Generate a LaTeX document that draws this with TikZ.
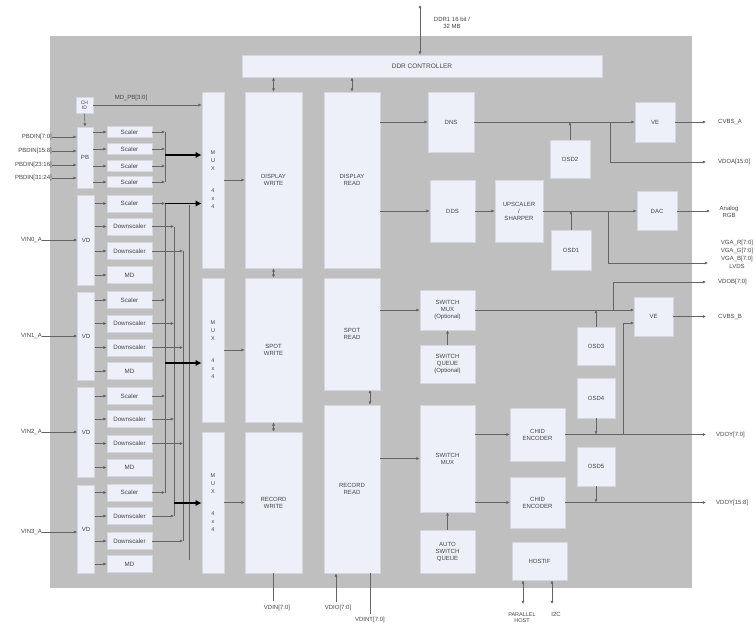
\documentclass[tikz,border=0pt]{standalone}
\usepackage{fontspec}
\setmainfont{Liberation Sans}
\usetikzlibrary{arrows.meta}
\definecolor{bgray}{RGB}{191,191,191}
\definecolor{bfill}{RGB}{237,239,249}
\definecolor{bedge}{RGB}{214,215,222}
\definecolor{lcol}{RGB}{100,100,100}
\definecolor{tcol}{RGB}{70,70,70}
\newcommand\vdgroup[7]{%
 \node[blk,minimum width=17,minimum height=#3] (vd#1) at (86,#2) {VD};
 \node[sub] (sa#1) at (129.5,#4) {Scaler};
 \node[sub] (sb#1) at (129.5,#5) {Downscaler};
 \node[sub] (sc#1) at (129.5,#6) {Downscaler};
 \node[sub] (sd#1) at (129.5,#7) {MD};
 \draw[arr] (vd#1.east |- sa#1.west) -- (sa#1.west);
 \draw[arr] (vd#1.east |- sb#1.west) -- (sb#1.west);
 \draw[arr] (vd#1.east |- sc#1.west) -- (sc#1.west);
 \draw[arr] (vd#1.east |- sd#1.west) -- (sd#1.west);
 \coordinate (ba#1) at (165,#4);
 \coordinate (bb#1) at (174,#5);
 \coordinate (bc#1) at (183,#6);
 \draw[arr] (sa#1.east) -- (ba#1);
 \draw[arr] (sb#1.east) -- (bb#1);
 \draw[arr] (sc#1.east) -- (bc#1);
}
\begin{document}
\begin{tikzpicture}[x=1pt,y=-1pt,
 blk/.style={draw=bedge,fill=bfill,line width=0.8pt,inner sep=0pt,align=center,font=\fontsize{6}{7}\selectfont,text=tcol},
 sub/.style={blk,minimum width=45,minimum height=17,font=\fontsize{6.2}{7}\selectfont},
 wire/.style={draw=lcol,line width=0.5pt},
 arr/.style={wire,-{Latex[length=3.2pt,width=3pt]}},
 darr/.style={wire,{Latex[length=3.2pt,width=3pt]}-{Latex[length=3.2pt,width=3pt]}},
 fat/.style={draw=black,line width=1.8pt,-{Latex[length=6pt,width=6.5pt]}},
 lbl/.style={font=\fontsize{6}{7}\selectfont,text=tcol,inner sep=0pt,align=center}
]
\useasboundingbox (0,0) rectangle (756,625);
\fill[white] (0,0) rectangle (756,625);
\node[fill=bgray,draw=none,inner sep=0pt,minimum width=642,minimum height=552] (bg) at (371,312) {};

% DDR
\node[blk,minimum width=360,minimum height=22,font=\fontsize{6.5}{7}\selectfont] (ddr) at (422,66) {DDR CONTROLLER};
\coordinate (ddrtop) at (420,5);
\draw[darr] (ddrtop) -- (ddrtop |- ddr.north);
\node[lbl] (ddrlbl) at (452,23) {DDR1 16 bit /\\32 MB};

% CH ID and PB
\node[blk,minimum width=17,minimum height=16,font=\fontsize{5}{5.5}\selectfont] (chid) at (84.5,105) {CH\\ID};
\node[blk,minimum width=16,minimum height=61] (pb) at (85,157.5) {PB};
\draw[arr] (chid.south) -- (pb.north);

% MUX
\node[blk,minimum width=22,minimum height=176,font=\fontsize{5.5}{8}\selectfont] (mux1) at (213,180) {M\\U\\X\\[14pt]4\\x\\4};
\node[blk,minimum width=22,minimum height=144,font=\fontsize{5.5}{8}\selectfont] (mux2) at (213,350) {M\\U\\X\\[14pt]4\\x\\4};
\node[blk,minimum width=22,minimum height=141,font=\fontsize{5.5}{8}\selectfont] (mux3) at (213,502.5) {M\\U\\X\\[14pt]4\\x\\4};

\draw[arr] (chid.east) -- (chid.east -| mux1.west);
\node[lbl] (mdpb) at (131,98) {MD\_PB[3:0]};

% PB inputs
\node[lbl,anchor=east] (pbin1) at (52,137) {PBDIN[7:0]};
\node[lbl,anchor=east] (pbin2) at (52,151) {PBDIN[15:8]};
\node[lbl,anchor=east] (pbin3) at (52,165) {PBDIN[23:16]};
\node[lbl,anchor=east] (pbin4) at (52,178) {PBDIN[31:24]};
\foreach \i in {1,2,3,4}{\draw[arr] (pbin\i.east) -- (pbin\i.east -| pb.west);}

% PB scalers
\foreach \i/\y in {1/132,2/149,3/166,4/182}{
 \node[sub,minimum height=11] (ps\i) at (129.5,\y) {Scaler};
 \draw[arr] (pb.east |- ps\i.west) -- (ps\i.west);
 \coordinate (pbus\i) at (165,\y);
 \draw[arr] (ps\i.east) -- (pbus\i);
}
\draw[wire] (pbus1) -- (pbus4);

% VD groups
\vdgroup{0}{240}{90}{203.5}{226.5}{251}{275}
\vdgroup{1}{336}{88}{300}{323.5}{347.5}{371}
\vdgroup{2}{432}{90}{396}{419}{443.5}{467.5}
\vdgroup{3}{529}{88}{492.5}{516}{541}{564}

\node[lbl,anchor=east] (vin0) at (42,240) {VIN0\_A};
\node[lbl,anchor=east] (vin1) at (42,336) {VIN1\_A};
\node[lbl,anchor=east] (vin2) at (42,432) {VIN2\_A};
\node[lbl,anchor=east] (vin3) at (42,532) {VIN3\_A};
\draw[arr] (vin0.east) -- (vin0.east -| vd0.west);
\draw[arr] (vin1.east) -- (vin1.east -| vd1.west);
\draw[arr] (vin2.east) -- (vin2.east -| vd2.west);
\draw[arr] (vin3.east) -- (vin3.east -| vd3.west);

% buses
\draw[wire] (ba0) -- (ba3);
\draw[wire] (bb0) -- (bb3);
\draw[wire] (bc0) -- (bc3);
\coordinate (bd0) at (189,205);
\coordinate (bd3) at (189,560);
\draw[wire] (bd0) -- (bd3);

% thick arrows
\coordinate (f1) at (165,155);
\coordinate (f3) at (165,363);
\coordinate (f4) at (174,503);
\draw[fat] (f1) -- (f1 -| mux1.west);
\draw[fat] (ba0) -- (ba0 -| mux1.west);
\draw[fat] (f3) -- (f3 -| mux2.west);
\draw[fat] (f4) -- (f4 -| mux3.west);

% write / read
\node[blk,minimum width=57,minimum height=176] (dw) at (273.5,180) {DISPLAY\\WRITE};
\node[blk,minimum width=57,minimum height=144] (sw) at (273.5,350) {SPOT\\WRITE};
\node[blk,minimum width=57,minimum height=141] (rw) at (273.5,502.5) {RECORD\\WRITE};
\node[blk,minimum width=56,minimum height=176] (dr) at (352,180) {DISPLAY\\READ};
\node[blk,minimum width=56,minimum height=112] (sr) at (352,334) {SPOT\\READ};
\node[blk,minimum width=56,minimum height=168] (rr) at (352,489) {RECORD\\READ};

\draw[arr] (mux1.east) -- (dw.west);
\draw[arr] (mux2.east) -- (sw.west);
\draw[arr] (mux3.east) -- (rw.west);
\draw[darr] (ddr.south -| dw.north) -- (dw.north);
\draw[darr] (ddr.south -| dr.north) -- (dr.north);
\draw[darr] (dw.south) -- (sw.north);
\draw[darr] (sw.south) -- (rw.north);
\coordinate (srb) at (370,390);
\draw[darr] (srb) -- (srb |- rr.north);

% bottom signals
\node[lbl] (vdin) at (277,608) {VDIN[7:0]};
\node[lbl] (vdio) at (338,608) {VDIO[7:0]};
\node[lbl] (vdint) at (370,620) {VDINT[7:0]};
\coordinate (rwd) at (273.5,601);
\draw[wire] (rw.south) -- (rwd);
\coordinate (rru) at (336,602);
\draw[arr] (rru) -- (rru |- rr.south);
\coordinate (rrd) at (370,614);
\draw[wire] (rrd |- rr.south) -- (rrd);

% display path
\node[blk,minimum width=46,minimum height=60] (dns) at (451,122) {DNS};
\node[blk,minimum width=45,minimum height=62] (dds) at (452.5,211) {DDS};
\node[blk,minimum width=48,minimum height=62] (ups) at (519,211) {UPSCALER\\/\\SHARPER};
\node[blk,minimum width=40,minimum height=38] (osd2) at (570,159) {OSD2};
\node[blk,minimum width=40,minimum height=40] (osd1) at (571,250) {OSD1};
\node[blk,minimum width=40,minimum height=40] (ve1) at (655,122) {VE};
\node[blk,minimum width=40,minimum height=39] (dac) at (657,211) {DAC};

\draw[arr] (dr.east |- dns.west) -- (dns.west);
\draw[arr] (dr.east |- dds.west) -- (dds.west);
\draw[arr] (dds.east) -- (ups.west);
\draw[arr] (dns.east) -- (ve1.west);
\draw[arr] (osd2.north) -- (osd2.north |- dns.east);
\draw[arr] (ups.east) -- (dac.west);
\draw[arr] (osd1.north) -- (osd1.north |- ups.east);

\coordinate (oa) at (706,122);
\coordinate (ob) at (706,162);
\coordinate (oc) at (710,211);
\coordinate (od) at (708,263);
\coordinate (oe) at (706,282);
\coordinate (of) at (706,316.5);
\coordinate (og) at (706,434.5);
\coordinate (oh) at (706,502.5);
\draw[arr] (ve1.east) -- (oa);
\coordinate (j1) at (610,122);
\draw[arr] (j1) -- (j1 |- ob) -- (ob);
\draw[arr] (dac.east) -- (oc);
\coordinate (j2) at (608,211);
\draw[arr] (j2) -- (j2 |- od) -- (od);

\node[lbl,anchor=west] (cvbsa) at (718,122) {CVBS\_A};
\node[lbl,anchor=west] (vdoa) at (718,162) {VDOA[15:0]};
\node[lbl] (argb) at (729,212) {Analog\\RGB};
\node[lbl,font=\fontsize{6}{8}\selectfont] (vga) at (737,254) {VGA\_R[7:0]\\VGA\_G[7:0]\\VGA\_B[7:0]\\LVDS};
\node[lbl,anchor=west] (vdob) at (718,282) {VDOB[7:0]};
\node[lbl,anchor=west] (cvbsb) at (718,316.5) {CVBS\_B};
\node[lbl,anchor=west] (vdox) at (716,434.5) {VDOY[7:0]};
\node[lbl,anchor=west] (vdoy) at (716,502.5) {VDOY[15:8]};

% switch / spot path
\node[blk,minimum width=55,minimum height=40] (smux1) at (447.5,310) {SWITCH\\MUX\\(Optional)};
\node[blk,minimum width=55,minimum height=38] (sq) at (447.5,364) {SWITCH\\QUEUE\\(Optional)};
\node[blk,minimum width=55,minimum height=107] (smux2) at (447.5,458.5) {SWITCH\\MUX};
\node[blk,minimum width=55,minimum height=43] (asq) at (447.5,551.5) {AUTO\\SWITCH\\QUEUE};
\node[blk,minimum width=55,minimum height=53] (chid1) at (537.5,434.5) {CHID\\ENCODER};
\node[blk,minimum width=55,minimum height=51] (chid2) at (537.5,502.5) {CHID\\ENCODER};
\node[blk,minimum width=55,minimum height=38] (hostif) at (539.5,561) {HOSTIF};
\node[blk,minimum width=39,minimum height=39] (ve2) at (653.5,316.5) {VE};
\node[blk,minimum width=38,minimum height=38] (osd3) at (596,346) {OSD3};
\node[blk,minimum width=38,minimum height=40] (osd4) at (596,398) {OSD4};
\node[blk,minimum width=38,minimum height=39] (osd5) at (596,466.5) {OSD5};

\draw[arr] (sr.east |- smux1.west) -- (smux1.west);
\draw[arr] (sq.north) -- (smux1.south);
\draw[arr] (rr.east |- smux2.west) -- (smux2.west);
\draw[arr] (asq.north) -- (smux2.south);
\draw[arr] (smux2.east |- chid1.west) -- (chid1.west);
\draw[arr] (smux2.east |- chid2.west) -- (chid2.west);

\coordinate (ve2a) at (634,310);
\coordinate (ve2b) at (634,323);
\draw[arr] (smux1.east) -- (ve2a);
\draw[arr] (osd3.north) -- (osd3.north |- ve2a);
\coordinate (j3) at (613,310);
\draw[arr] (j3) -- (j3 |- oe) -- (oe);
\draw[arr] (ve2.east) -- (of);

\draw[arr] (chid1.east) -- (og);
\draw[arr] (osd4.south) -- (osd4.south |- og);
\coordinate (j4) at (623,434.5);
\draw[arr] (j4) -- (j4 |- ve2b) -- (ve2b);
\draw[arr] (chid2.east) -- (oh);
\draw[arr] (osd5.south) -- (osd5.south |- oh);

% host
\coordinate (ph) at (523,604);
\coordinate (pi) at (552,604);
\draw[darr] (hostif.south -| ph) -- (ph);
\draw[darr] (hostif.south -| pi) -- (pi);
\node[lbl,font=\fontsize{5.5}{6}\selectfont] (phl) at (522,617.5) {PARALLEL\\HOST};
\node[lbl] (pil) at (556,614) {I2C};
\end{tikzpicture}
\end{document}
